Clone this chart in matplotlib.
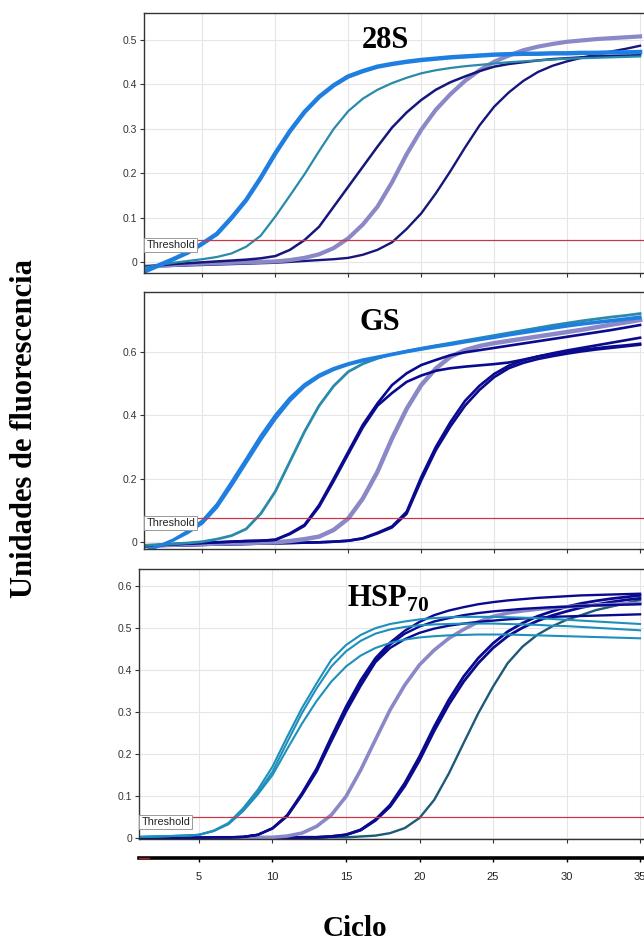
import numpy as np
import matplotlib
matplotlib.use("Agg")
import matplotlib.pyplot as plt

plt.rcParams['mathtext.fontset'] = 'custom'
plt.rcParams['mathtext.rm'] = 'Liberation Serif'
plt.rcParams['mathtext.bf'] = 'Liberation Serif:bold'

cycles = np.arange(1, 36)

# ---- 28S ----
s28_lightblue = [-0.021, -0.007, 0.007, 0.022, 0.042, 0.064, 0.100, 0.140, 0.190, 0.245, 0.295, 0.338, 0.372, 0.398, 0.418, 0.430, 0.440, 0.446, 0.451, 0.455, 0.458, 0.461, 0.463, 0.465, 0.467, 0.468, 0.469, 0.469, 0.470, 0.470, 0.471, 0.471, 0.472, 0.472, 0.473]
s28_teal = [-0.012, -0.006, -0.001, 0.003, 0.007, 0.012, 0.020, 0.035, 0.060, 0.103, 0.150, 0.198, 0.250, 0.300, 0.340, 0.368, 0.388, 0.403, 0.415, 0.425, 0.432, 0.437, 0.441, 0.444, 0.447, 0.450, 0.452, 0.454, 0.456, 0.458, 0.459, 0.460, 0.461, 0.462, 0.463]
s28_navy1 = [-0.010, -0.007, -0.004, -0.002, 0.000, 0.002, 0.004, 0.006, 0.009, 0.014, 0.028, 0.050, 0.080, 0.125, 0.170, 0.215, 0.260, 0.303, 0.337, 0.365, 0.388, 0.405, 0.418, 0.430, 0.440, 0.446, 0.450, 0.454, 0.457, 0.459, 0.461, 0.463, 0.464, 0.465, 0.466]
s28_lav = [-0.010, -0.008, -0.006, -0.004, -0.003, -0.002, -0.001, 0.000, 0.001, 0.002, 0.005, 0.010, 0.018, 0.032, 0.054, 0.085, 0.125, 0.180, 0.243, 0.298, 0.343, 0.378, 0.408, 0.432, 0.451, 0.465, 0.477, 0.485, 0.491, 0.496, 0.499, 0.502, 0.504, 0.506, 0.508]
s28_navy2 = [-0.010, -0.009, -0.008, -0.007, -0.006, -0.005, -0.004, -0.003, -0.002, -0.001, 0.001, 0.003, 0.005, 0.007, 0.010, 0.017, 0.028, 0.045, 0.075, 0.110, 0.155, 0.205, 0.258, 0.308, 0.350, 0.382, 0.408, 0.428, 0.442, 0.452, 0.460, 0.467, 0.474, 0.480, 0.487]

# ---- GS ----
gs_lightblue_a = [-0.030, -0.012, 0.008, 0.035, 0.068, 0.120, 0.190, 0.262, 0.335, 0.400, 0.455, 0.497, 0.527, 0.548, 0.563, 0.575, 0.584, 0.593, 0.602, 0.610, 0.618, 0.625, 0.633, 0.640, 0.647, 0.655, 0.662, 0.670, 0.677, 0.684, 0.689, 0.694, 0.699, 0.704, 0.710]
gs_lightblue_b = [-0.028, -0.012, 0.006, 0.030, 0.060, 0.110, 0.178, 0.250, 0.322, 0.388, 0.445, 0.490, 0.521, 0.543, 0.559, 0.571, 0.581, 0.590, 0.599, 0.607, 0.615, 0.622, 0.630, 0.637, 0.644, 0.652, 0.659, 0.666, 0.673, 0.680, 0.686, 0.691, 0.696, 0.701, 0.706]
gs_teal = [-0.010, -0.008, -0.005, -0.002, 0.002, 0.010, 0.021, 0.042, 0.090, 0.160, 0.254, 0.348, 0.430, 0.492, 0.537, 0.562, 0.579, 0.592, 0.602, 0.611, 0.619, 0.627, 0.635, 0.643, 0.651, 0.659, 0.667, 0.675, 0.683, 0.690, 0.697, 0.703, 0.709, 0.714, 0.720]
gs_navy1_a = [-0.012, -0.009, -0.006, -0.004, -0.002, 0.000, 0.002, 0.004, 0.005, 0.008, 0.028, 0.055, 0.117, 0.200, 0.285, 0.370, 0.437, 0.495, 0.532, 0.558, 0.574, 0.589, 0.598, 0.605, 0.612, 0.619, 0.626, 0.633, 0.640, 0.647, 0.654, 0.661, 0.668, 0.676, 0.684]
gs_navy1_b = [-0.012, -0.009, -0.006, -0.004, -0.002, 0.000, 0.002, 0.004, 0.005, 0.008, 0.026, 0.052, 0.112, 0.193, 0.278, 0.362, 0.430, 0.470, 0.505, 0.525, 0.540, 0.548, 0.553, 0.557, 0.561, 0.566, 0.575, 0.585, 0.593, 0.600, 0.606, 0.611, 0.616, 0.620, 0.625]
gs_lav = [-0.012, -0.010, -0.008, -0.006, -0.005, -0.004, -0.003, -0.002, -0.001, 0.000, 0.004, 0.010, 0.018, 0.039, 0.075, 0.138, 0.222, 0.327, 0.420, 0.495, 0.547, 0.584, 0.605, 0.618, 0.627, 0.634, 0.641, 0.648, 0.655, 0.662, 0.669, 0.677, 0.685, 0.692, 0.700]
gs_navy2_a = [-0.012, -0.011, -0.010, -0.009, -0.008, -0.007, -0.006, -0.005, -0.004, -0.003, -0.002, -0.001, 0.000, 0.002, 0.005, 0.013, 0.030, 0.050, 0.096, 0.205, 0.300, 0.378, 0.445, 0.493, 0.530, 0.556, 0.573, 0.585, 0.595, 0.604, 0.612, 0.620, 0.628, 0.636, 0.644]
gs_navy2_b = [-0.012, -0.011, -0.010, -0.009, -0.008, -0.007, -0.006, -0.005, -0.004, -0.003, -0.002, -0.001, 0.000, 0.002, 0.005, 0.012, 0.028, 0.047, 0.090, 0.195, 0.290, 0.365, 0.430, 0.480, 0.520, 0.548, 0.565, 0.577, 0.586, 0.594, 0.601, 0.607, 0.612, 0.617, 0.622]

# ---- HSP70 ----
hsp_teal_a = [0.003, 0.004, 0.005, 0.006, 0.008, 0.018, 0.036, 0.071, 0.115, 0.170, 0.241, 0.309, 0.368, 0.424, 0.459, 0.483, 0.499, 0.509, 0.515, 0.520, 0.523, 0.525, 0.526, 0.526, 0.526, 0.525, 0.524, 0.523, 0.521, 0.519, 0.517, 0.515, 0.513, 0.511, 0.509]
hsp_teal_b = [0.003, 0.004, 0.005, 0.006, 0.008, 0.017, 0.034, 0.066, 0.108, 0.158, 0.228, 0.297, 0.356, 0.408, 0.444, 0.469, 0.486, 0.496, 0.502, 0.506, 0.508, 0.509, 0.510, 0.510, 0.510, 0.509, 0.508, 0.507, 0.505, 0.504, 0.502, 0.500, 0.498, 0.496, 0.494]
hsp_teal_c = [0.003, 0.004, 0.005, 0.006, 0.008, 0.017, 0.033, 0.064, 0.104, 0.150, 0.212, 0.272, 0.326, 0.372, 0.408, 0.434, 0.452, 0.464, 0.472, 0.477, 0.480, 0.482, 0.483, 0.484, 0.484, 0.484, 0.483, 0.482, 0.481, 0.480, 0.479, 0.478, 0.477, 0.476, 0.475]
hsp_navy1_a = [0.000, 0.000, 0.001, 0.001, 0.001, 0.002, 0.002, 0.003, 0.008, 0.024, 0.055, 0.107, 0.166, 0.241, 0.313, 0.376, 0.428, 0.465, 0.493, 0.514, 0.530, 0.541, 0.549, 0.556, 0.561, 0.565, 0.568, 0.571, 0.573, 0.575, 0.577, 0.578, 0.579, 0.580, 0.581]
hsp_navy1_b = [0.000, 0.000, 0.001, 0.001, 0.001, 0.002, 0.002, 0.003, 0.008, 0.023, 0.053, 0.104, 0.162, 0.236, 0.308, 0.370, 0.422, 0.460, 0.486, 0.503, 0.515, 0.523, 0.530, 0.535, 0.539, 0.542, 0.545, 0.547, 0.549, 0.550, 0.552, 0.553, 0.554, 0.555, 0.556]
hsp_navy1_c = [0.000, 0.000, 0.001, 0.001, 0.001, 0.002, 0.002, 0.003, 0.008, 0.023, 0.052, 0.102, 0.158, 0.230, 0.300, 0.362, 0.418, 0.452, 0.473, 0.488, 0.498, 0.505, 0.510, 0.514, 0.517, 0.520, 0.522, 0.524, 0.526, 0.527, 0.528, 0.529, 0.530, 0.531, 0.532]
hsp_lav = [0.000, 0.000, 0.000, 0.000, 0.000, 0.001, 0.001, 0.001, 0.002, 0.002, 0.005, 0.012, 0.028, 0.055, 0.099, 0.162, 0.234, 0.305, 0.364, 0.412, 0.447, 0.475, 0.496, 0.514, 0.527, 0.535, 0.540, 0.544, 0.547, 0.550, 0.552, 0.554, 0.555, 0.557, 0.558]
hsp_navy2_a = [0.000, 0.000, 0.000, 0.000, 0.000, 0.000, 0.000, 0.001, 0.001, 0.001, 0.001, 0.002, 0.002, 0.004, 0.008, 0.020, 0.044, 0.079, 0.131, 0.194, 0.265, 0.329, 0.384, 0.428, 0.463, 0.491, 0.511, 0.527, 0.539, 0.550, 0.558, 0.564, 0.569, 0.573, 0.577]
hsp_navy2_b = [0.000, 0.000, 0.000, 0.000, 0.000, 0.000, 0.000, 0.001, 0.001, 0.001, 0.001, 0.002, 0.002, 0.004, 0.008, 0.019, 0.042, 0.075, 0.124, 0.185, 0.255, 0.318, 0.372, 0.416, 0.452, 0.480, 0.500, 0.516, 0.529, 0.539, 0.548, 0.555, 0.561, 0.566, 0.570]
hsp_dteal = [0.000, 0.000, 0.000, 0.000, 0.000, 0.000, 0.000, 0.000, 0.000, 0.001, 0.001, 0.001, 0.001, 0.002, 0.002, 0.004, 0.006, 0.012, 0.024, 0.048, 0.091, 0.154, 0.226, 0.297, 0.360, 0.416, 0.455, 0.483, 0.503, 0.519, 0.530, 0.542, 0.550, 0.558, 0.566]

thresholds = [0.05, 0.0755, 0.05]
xticks = [5, 10, 15, 20, 25, 30, 35]

LB = '#1F7FE0'
TEAL = '#2A8AAA'
NAVY = '#16167C'
NAVY2 = '#0A0A8F'
LAV = '#8A88C6'
TEAL3 = '#1E90BB'
DTEAL = '#1E5A78'
RED = '#C8384A'

W, H = 644, 941


def rect(l, t, r, b):
    return [l / W, 1 - b / H, (r - l) / W, (b - t) / H]


fig = plt.figure(figsize=(W / 100, H / 100), dpi=100)
fig.patch.set_facecolor('white')

ax1 = fig.add_axes(rect(144, 13.3, 644, 273.3))
ax2 = fig.add_axes(rect(144, 292.3, 644, 549))
ax3 = fig.add_axes(rect(139, 569.3, 644, 839))
axb = fig.add_axes(rect(139, 840, 644, 858))

panels = [
    (ax1, (1.0, 35.27), (-0.0247, 0.56), [0, 0.1, 0.2, 0.3, 0.4, 0.5], ['0', '0.1', '0.2', '0.3', '0.4', '0.5']),
    (ax2, (1.0, 35.27), (-0.021, 0.787), [0, 0.2, 0.4, 0.6], ['0', '0.2', '0.4', '0.6']),
    (ax3, (0.92, 35.27), (-0.002, 0.639), [0, 0.1, 0.2, 0.3, 0.4, 0.5, 0.6], ['0', '0.1', '0.2', '0.3', '0.4', '0.5', '0.6']),
]

for i, (ax, xl, yl, yt, ytl) in enumerate(panels):
    ax.set_xlim(*xl)
    ax.set_ylim(*yl)
    ax.set_xticks(xticks)
    ax.set_xticklabels([])
    ax.set_yticks(yt)
    ax.set_yticklabels(ytl, fontsize=7.5, color='#333333', family='Liberation Sans')
    ax.grid(True, color='#E6E6E6', lw=0.8)
    ax.set_axisbelow(True)
    ax.spines['right'].set_visible(False)
    for s in ['left', 'top', 'bottom']:
        ax.spines[s].set_color('#333333')
        ax.spines[s].set_linewidth(1.0)
    ax.tick_params(axis='both', length=3, width=0.8, color='#333333', pad=2)
    ax.axhline(thresholds[i], color=RED, lw=0.9, zorder=3)
    ax.text(xl[0] + 0.15, thresholds[i], 'Threshold', fontsize=7.8, family='Liberation Sans',
            va='top', ha='left', color='#222222', zorder=5,
            bbox=dict(boxstyle='square,pad=0.18', fc='white', ec='#999999', lw=0.7))

# 28S
ax1.plot(cycles, s28_navy2, color=NAVY, lw=1.7)
ax1.plot(cycles, s28_lav, color=LAV, lw=3.0)
ax1.plot(cycles, s28_navy1, color=NAVY, lw=1.8)
ax1.plot(cycles, s28_teal, color=TEAL, lw=1.6)
ax1.plot(cycles, s28_lightblue, color=LB, lw=3.2)

# GS
for y in [gs_navy2_a, gs_navy2_b]:
    ax2.plot(cycles, y, color=NAVY2, lw=1.9)
ax2.plot(cycles, gs_lav, color=LAV, lw=3.2)
for y in [gs_navy1_a, gs_navy1_b]:
    ax2.plot(cycles, y, color=NAVY2, lw=1.9)
ax2.plot(cycles, gs_teal, color=TEAL, lw=2.0)
for y in [gs_lightblue_a, gs_lightblue_b]:
    ax2.plot(cycles, y, color=LB, lw=2.0)

# HSP70
ax3.plot(cycles, hsp_dteal, color=DTEAL, lw=1.7)
for y in [hsp_navy2_a, hsp_navy2_b]:
    ax3.plot(cycles, y, color=NAVY2, lw=2.0)
ax3.plot(cycles, hsp_lav, color=LAV, lw=2.6)
for y in [hsp_navy1_a, hsp_navy1_b, hsp_navy1_c]:
    ax3.plot(cycles, y, color=NAVY2, lw=1.7)
for y in [hsp_teal_a, hsp_teal_b, hsp_teal_c]:
    ax3.plot(cycles, y, color=TEAL3, lw=1.5)

# bottom cycle strip
axb.set_xlim(0.92, 35.27)
axb.set_ylim(0, 1)
axb.patch.set_alpha(0)
for s in ['left', 'top', 'right']:
    axb.spines[s].set_visible(False)
axb.spines['bottom'].set_linewidth(2.6)
axb.spines['bottom'].set_color('black')
axb.set_yticks([])
axb.set_xticks(xticks)
axb.set_xticklabels([str(v) for v in xticks], fontsize=8, color='#222222', family='Liberation Sans')
axb.tick_params(axis='x', length=3, width=1, color='black', pad=7)
axb.plot([0.92, 1.6], [0, 0], color='#B02020', lw=1.0, clip_on=False, zorder=5)

# titles and labels
fig.text(385 / W, 1 - 40 / H, '28S', fontsize=22, fontweight='bold', family='Liberation Serif',
         ha='center', va='center')
fig.text(380 / W, 1 - 322 / H, 'GS', fontsize=22, fontweight='bold', family='Liberation Serif',
         ha='center', va='center')
fig.text(388 / W, 1 - 599 / H, r'HSP$_{\mathbf{70}}$', fontsize=22, fontweight='bold',
         family='Liberation Serif', ha='center', va='center')
fig.text(355 / W, 1 - 929 / H, 'Ciclo', fontsize=21, fontweight='bold', family='Liberation Serif',
         ha='center', va='center')
fig.text(25 / W, 1 - 428 / H, 'Unidades de fluorescencia', fontsize=22, fontweight='bold',
         family='Liberation Serif', ha='center', va='center', rotation=90)

fig.savefig('out.png', dpi=100)
